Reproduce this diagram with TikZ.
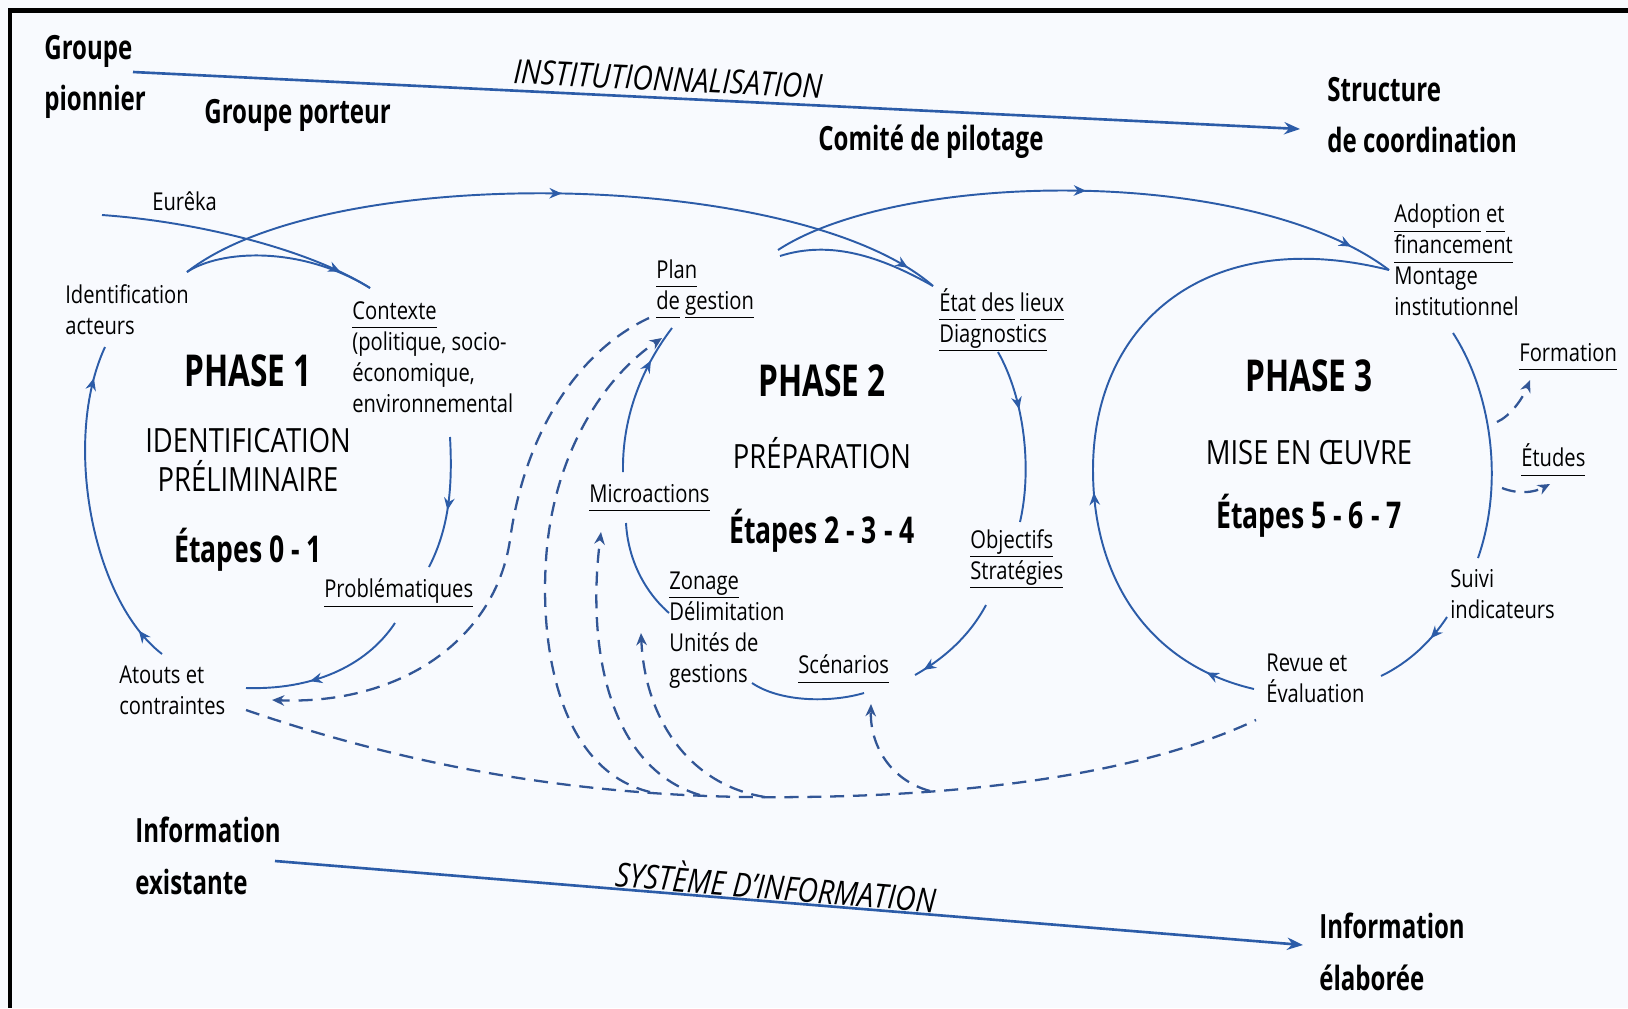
\documentclass[tikz,border=0pt]{standalone}
\usepackage{fontspec}
\setmainfont{Open Sans}[FakeStretch=0.82, BoldFeatures={FakeStretch=0.72}, ItalicFeatures={FakeStretch=0.85}]
\usetikzlibrary{positioning, calc, arrows.meta, decorations.markings}
\definecolor{flowblue}{RGB}{44,92,168}
\definecolor{dashblue}{RGB}{50,86,150}
\definecolor{paper}{RGB}{248,250,254}
\newcommand{\undl}[1]{\underline{#1\vphantom{gp}}}

\begin{document}
\begin{tikzpicture}[x=0.02cm, y=-0.02cm,
    flow/.style={draw=flowblue, line width=1.1pt},
    feed/.style={draw=dashblue, line width=1.3pt, dash pattern=on 8pt off 5pt},
    axisline/.style={draw=flowblue, line width=1.5pt, -{Stealth[length=9pt,width=7pt]}},
    endtip/.style={-{Stealth[length=7pt,width=6pt]}},
    arrowat/.style={postaction={decorate, decoration={markings,
        mark=at position #1 with {\arrow{Stealth[length=7pt,width=6pt]}}}}},
    lbl/.style={inner sep=0pt, anchor=west, align=left,
      font=\fontsize{14}{17.6}\selectfont},
    head/.style={inner sep=0pt, anchor=west, align=left,
      font=\bfseries\fontsize{19}{29.5}\selectfont},
    phasetitle/.style={inner sep=0pt, font=\bfseries\fontsize{25}{28}\selectfont},
    phasesub/.style={inner sep=0pt, align=center, font=\fontsize{19}{22.7}\selectfont},
    stepslbl/.style={inner sep=0pt, font=\bfseries\fontsize{21}{24}\selectfont},
    axislbl/.style={inner sep=0pt, font=\itshape\fontsize{19}{20}\selectfont}]

  \fill[paper] (0,0) rectangle (1628,1008);
  \useasboundingbox (0,0) rectangle (1628,1008);
  \draw[line width=0.1cm] (8,10) -- (1628,10);
  \draw[line width=0.1cm] (10,8) -- (10,1008);

% TITLES

  \node[head] (grpion) at (44,77) {Groupe\\pionnier};
  \node[head] (grport) at (204,115) {Groupe porteur};
  \node[head] (copil) at (818,142) {Comité de pilotage};
  \node[head] (struct) at (1327,115) {Structure\\de coordination};
  \node[head] (infex) at (135,856) {Information\\existante};
  \node[head] (infel) at (1319,952) {Information\\élaborée};

  \node[axislbl, rotate=-2.8] (inst) at (668,79) {INSTITUTIONNALISATION};
  \node[axislbl, rotate=-4.7] (sysinf) at (776,884) {SYSTÈME D'INFORMATION};

  \draw[axisline] ($(grpion.west)+(89,-5)$) -- ($(struct.west)+(-27,14)$);
  \draw[axisline] ($(infex.west)+(140,5)$) -- ($(infel.west)+(-16,-7)$);

% PHASE 1

  \node[phasetitle] (ph1) at (248,371) {PHASE 1};
  \node[phasesub, below=0.8cm of ph1] (sub1) {IDENTIFICATION\\PRÉLIMINAIRE};
  \node[stepslbl, below=0.72cm of sub1] (et1) {Étapes 0 - 1};

  \coordinate (eurin) at (102,215);
  \node[lbl] (eur) at (152,201) {Eurêka};
  \node[lbl] (ident) at (65,310) {Identification\\acteurs};
  \node[lbl] (ctx) at (352,357) {\undl{Contexte}\\(politique, socio-\\économique,\\environnemental};
  \node[lbl] (prob) at (324,593) {\undl{Problématiques}};
  \node[lbl] (atouts) at (119,690) {Atouts et\\contraintes};

% PHASE 2

  \node[phasetitle] (ph2) at (822,381) {PHASE 2};
  \node[phasesub] (sub2) at (822,453) {PRÉPARATION};
  \node[stepslbl] (et2) at (822,531) {Étapes 2 - 3 - 4};

  \node[lbl] (plan) at (656,289) {\undl{Plan}\\\undl{de} \undl{gestion}};
  \node[lbl] (micro) at (589,498) {\undl{Microactions}};
  \node[lbl] (zon) at (669,630) {\undl{Zonage}\\Délimitation\\Unités de\\gestions};
  \node[lbl] (scen) at (798,669) {\undl{Scénarios}};
  \node[lbl] (etat) at (939,320) {\undl{État} \undl{des} \undl{lieux}\\\undl{Diagnostics}};
  \node[lbl] (obj) at (970,559) {\undl{Objectifs}\\\undl{Stratégies}};

% PHASE 3

  \node[phasetitle] (ph3) at (1309,376) {PHASE 3};
  \node[phasesub] (sub3) at (1309,453) {MISE EN ŒUVRE};
  \node[stepslbl] (et3) at (1309,516) {Étapes 5 - 6 - 7};

  \node[lbl] (adopt) at (1394,260) {\undl{Adoption} \undl{et}\\\undl{financement}\\Montage\\institutionnel};
  \node[lbl] (form) at (1519,357) {\undl{Formation}};
  \node[lbl] (etud) at (1521,460) {\undl{Études}};
  \node[lbl] (suivi) at (1450,594) {Suivi\\indicateurs};
  \node[lbl] (revue) at (1266,678) {Revue et\\Évaluation};

% CYCLES

  \draw[flow, arrowat=0.88] (eurin) .. controls (200,222) and (310,250) .. ($(ctx.west)+(18,-69)$);
  \draw[flow, arrowat=0.5, arrowat=0.96] ($(ident.west)+(122,-38)$)
    .. controls (330,160) and (800,170) .. ($(etat.west)+(-6,-34)$);
  \draw[flow] ($(ident.west)+(122,-38)$) .. controls (220,250) and (300,245) .. ($(ctx.west)+(18,-69)$);
  \draw[flow, arrowat=0.55] ($(ctx.west)+(98,80)$) .. controls (453,490) and (448,530) .. ($(prob.west)+(105,-26)$);
  \draw[flow, arrowat=0.62] ($(prob.west)+(71,30)$) .. controls (365,668) and (310,690) .. ($(atouts.west)+(127,-2)$);
  \draw[flow, arrowat=0.1, arrowat=0.9] ($(atouts.west)+(43,-36)$)
    .. controls (92,600) and (62,440) .. ($(ident.west)+(40,37)$);

  \draw[flow, arrowat=0.5, arrowat=0.93] ($(plan.west)+(122,-39)$)
    .. controls (900,170) and (1250,165) .. ($(adopt.west)+(-5,10)$);
  \draw[flow] ($(plan.west)+(124,-33)$) .. controls (830,240) and (880,256) .. ($(etat.west)+(-6,-34)$);
  \draw[flow, arrowat=0.35] ($(etat.west)+(59,32)$) .. controls (1025,400) and (1032,470) .. ($(obj.west)+(50,-37)$);
  \draw[flow, arrowat=0.9] ($(obj.west)+(16,46)$) .. controls (970,635) and (945,658) .. ($(scen.west)+(117,6)$);
  \draw[flow] ($(scen.west)+(66,24)$) .. controls (830,703) and (780,702) .. ($(zon.west)+(83,53)$);
  \draw[flow] ($(zon.west)+(0,-17)$) .. controls (645,592) and (628,560) .. ($(micro.west)+(37,25)$);
  \draw[flow, arrowat=0.75] ($(micro.west)+(34,-26)$) .. controls (622,420) and (640,370) .. ($(plan.west)+(16,39)$);

  \draw[flow] ($(adopt.west)+(59,73)$) .. controls (1490,390) and (1505,480) .. ($(suivi.west)+(28,-36)$);
  \draw[flow, arrowat=0.3] ($(suivi.west)+(-3,23)$) .. controls (1432,640) and (1410,662) .. ($(revue.west)+(115,-2)$);
  \draw[flow, arrowat=0.07, arrowat=0.38] ($(revue.west)+(-12,11)$)
    .. controls (1150,665) and (1093,580) .. (1093,470)
    .. controls (1093,320) and (1210,225) .. ($(adopt.west)+(-5,10)$);

% FEEDBACK

  \coordinate (toform) at (1497,422);
  \coordinate (toetud) at (1502,488);
  \draw[feed, endtip] (toform) .. controls (1510,416) and (1522,400) .. ($(form.west)+(11,23)$);
  \draw[feed, endtip] (toetud) .. controls (1520,495) and (1535,492) .. ($(etud.west)+(29,24)$);

  \draw[feed] ($(atouts.west)+(127,20)$) .. controls (420,770) and (600,800) .. (800,797)
    .. controls (990,795) and (1150,770) .. ($(revue.west)+(-10,42)$);
  \draw[feed, endtip] ($(plan.west)+(-7,29)$) .. controls (580,350) and (525,430) .. (510,540)
    .. controls (495,640) and (400,705) .. ($(atouts.west)+(153,10)$);

  \coordinate (j1) at (650,792);
  \coordinate (j2) at (700,795);
  \coordinate (j3) at (765,797);
  \coordinate (j4) at (930,791);
  \draw[feed, endtip] (j1) .. controls (560,770) and (540,650) .. (546,560)
    .. controls (552,460) and (600,380) .. ($(plan.west)+(6,49)$);
  \draw[feed, endtip] (j2) .. controls (615,770) and (585,660) .. ($(micro.west)+(12,34)$);
  \draw[feed, endtip] (j3) .. controls (690,785) and (645,720) .. ($(zon.west)+(-28,3)$);
  \draw[feed, endtip] (j4) .. controls (890,780) and (870,745) .. ($(scen.west)+(73,35)$);

\end{tikzpicture}
\end{document}
